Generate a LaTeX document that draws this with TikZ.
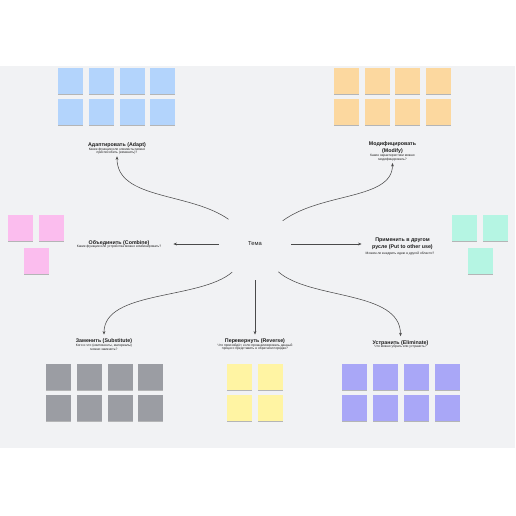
\documentclass[tikz,border=0pt]{standalone}
\usepackage{fontspec}
\setmainfont{Liberation Sans}
\usetikzlibrary{arrows.meta,shadows}
\definecolor{bgc}{HTML}{F1F2F4}
\definecolor{blueN}{HTML}{B3D4FC}
\definecolor{orangeN}{HTML}{FCD89F}
\definecolor{pinkN}{HTML}{FBBDEE}
\definecolor{tealN}{HTML}{B5F5E3}
\definecolor{grayN}{HTML}{9B9DA3}
\definecolor{yellowN}{HTML}{FFF4A3}
\definecolor{purpleN}{HTML}{A9A7F7}
\definecolor{arrowc}{HTML}{4A4A4A}
\definecolor{txtc}{HTML}{1E1E1E}
\begin{document}
\begin{tikzpicture}[x=1pt,y=-1pt,
  note/.style={rectangle,inner sep=0,minimum width=25pt,minimum height=26pt,anchor=north west,draw=none,
    drop shadow={shadow xshift=0pt,shadow yshift=-0.8pt,opacity=0.25,fill=black}},
  ttl/.style={font=\fontsize{5.3}{6.6}\selectfont\bfseries,align=center,inner sep=0,text=txtc},
  sub/.style={font=\fontsize{3.3}{3.6}\selectfont,align=center,inner sep=0,text=txtc},
  conn/.style={draw=arrowc,line width=0.55pt,-{Stealth[length=3.5pt,width=2.8pt]}}]
\useasboundingbox (0,0) rectangle (516,516);
\fill[white] (0,0) rectangle (516,516);
\fill[bgc] (0,66) rectangle (515,448);
% sticky notes
\foreach \i/\x in {1/58,2/89,3/120,4/150}{
  \node[note,fill=blueN] (b\i) at (\x,68) {};
  \node[note,fill=blueN] (bb\i) at (\x,99) {};
}
\foreach \i/\x in {1/334,2/365,3/395,4/426}{
  \node[note,fill=orangeN] (o\i) at (\x,68) {};
  \node[note,fill=orangeN] (oo\i) at (\x,99) {};
}
\node[note,fill=pinkN] (p1) at (8,215) {};
\node[note,fill=pinkN] (p2) at (39,215) {};
\node[note,fill=pinkN] (p3) at (24,248) {};
\node[note,fill=tealN] (t1) at (452,215) {};
\node[note,fill=tealN] (t2) at (483,215) {};
\node[note,fill=tealN] (t3) at (468,248) {};
\foreach \i/\x in {1/46,2/77,3/108,4/138}{
  \node[note,fill=grayN] (g\i) at (\x,364) {};
  \node[note,fill=grayN] (gg\i) at (\x,395) {};
}
\foreach \i/\x in {1/227,2/258}{
  \node[note,fill=yellowN] (y\i) at (\x,364) {};
  \node[note,fill=yellowN] (yy\i) at (\x,395) {};
}
\foreach \i/\x in {1/342,2/373,3/404,4/435}{
  \node[note,fill=purpleN] (v\i) at (\x,364) {};
  \node[note,fill=purpleN] (vv\i) at (\x,395) {};
}
% center
\node[circle,minimum size=72pt,inner sep=0,font=\fontsize{5.8}{6.5}\selectfont,text=txtc] (c) at (255,244) {Тема};
% labels
\node[ttl] (adaptT) at (117,144.7) {Адаптировать (Adapt)};
\node[sub,outer sep=2pt] (adaptS) at (117,151) {Какие функции или элементы можно\\приспособить (изменить)?};
\node[ttl] (modT) at (392.5,147.6) {Модифицировать\\(Modify)};
\node[sub,outer sep=2pt] (modS) at (392.5,157.7) {Какие характеристики можно\\модифицировать?};
\node[ttl] (combT) at (119,242.7) {Объединить (Combine)};
\node[sub] (combS) at (119,246.9) {Какие функции или устройства можно комбинировать?};
\node[ttl] (putT) at (402.5,244) {Применить в другом\\русле (Put to other use)};
\node[sub] (putS) at (400,253.3) {Можем ли внедрить идею в другой области?};
\node[ttl,outer sep=4pt] (subT) at (104,341) {Заменить (Substitute)};
\node[sub] (subS) at (104,347.5) {Кого и что (компоненты, материалы)\\можно заменить?};
\node[ttl,outer sep=4pt] (revT) at (255,341) {Перевернуть (Reverse)};
\node[sub] (revS) at (255,347) {Что произойдёт, если проанализировать данный\\процесс представить в обратном порядке?};
\node[ttl,outer sep=4pt] (elimT) at (400.5,342.7) {Устранить (Eliminate)};
\node[sub] (elimS) at (400.5,346.9) {Что можно убрать или устранить?};
% connectors
\draw[conn] (c.137) .. controls (190,192) and (117,200) .. (adaptS.south);
\draw[conn] (c.40) .. controls (322,192) and (392.5,200) .. (modS.south);
\draw[conn,shorten >=12pt] (c.west) -- (c.west -| combS.east);
\draw[conn,shorten >=4pt] (c.east) -- (c.east -| putS.west);
\draw[conn] (c.231) .. controls (200,300) and (104,290) .. (subT.north);
\draw[conn] (c.south) -- (revT.north);
\draw[conn] (c.310) .. controls (310,300) and (400.5,290) .. (elimT.north);
\end{tikzpicture}
\end{document}
